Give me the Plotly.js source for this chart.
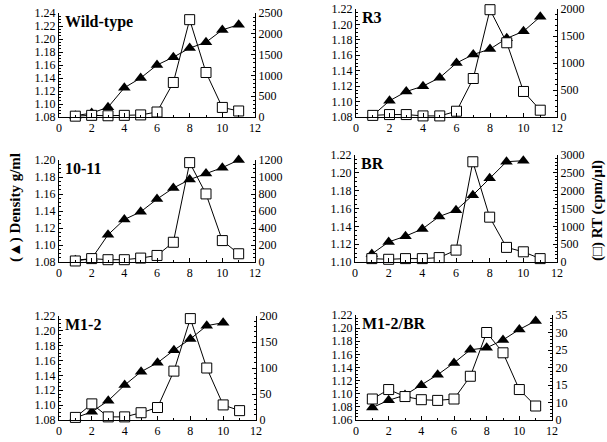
<!DOCTYPE html>
<html>
<head>
<meta charset="utf-8">
<script src="https://cdn.plot.ly/plotly-3.0.1.min.js"></script>
<style>html,body{margin:0;padding:0;background:#fff;}#chart{width:607px;height:442px;}</style>
</head>
<body>
<div id="chart"></div>
<script>
// ---- data ----
const fractions = [1,2,3,4,5,6,7,8,9,10,11];
const xTickVals = [0,2,4,6,8,10,12];
const panelNames = ["Wild-type","R3","10-11","BR","M1-2","M1-2/BR"];

const wtDensity   = [1.082,1.086,1.095,1.125,1.140,1.160,1.172,1.186,1.195,1.214,1.222];
const wtRT        = [20,40,30,40,50,120,830,2340,1070,230,145];
const r3Density   = [1.082,1.101,1.113,1.120,1.131,1.150,1.161,1.168,1.182,1.191,1.210];
const r3RT        = [30,45,45,20,20,107,713,1987,1375,473,126];
const d1011Density= [1.082,1.084,1.112,1.130,1.139,1.154,1.167,1.177,1.184,1.191,1.200];
const d1011RT     = [12,40,27,27,46,77,232,1169,801,252,97];
const brDensity   = [1.109,1.1225,1.129,1.137,1.151,1.158,1.175,1.194,1.2125,1.2136];
const brRT        = [95,76,95,95,124,333,2810,1257,410,286,95];
const m12Density  = [1.083,1.091,1.106,1.127,1.145,1.157,1.174,1.189,1.207,1.211];
const m12RT       = [5,31,6,6,14,24,94,195,100,29,18];
const m12brDensity= [1.079,1.090,1.098,1.113,1.129,1.147,1.167,1.170,1.182,1.198,1.211];
const m12brRT     = [11.0,13.7,11.7,10.8,10.6,11.0,17.5,30.0,24.2,13.7,9.0];

const densityRanges = [[1.08,1.24],[1.08,1.22],[1.08,1.20],[1.10,1.22],[1.08,1.22],[1.06,1.22]];
const rtRanges = [[0,2500],[0,2000],[0,1200],[0,3000],[0,200],[5,35]];
const rtDticks = [500,500,200,500,50,5];
const m12brRTTickVals = [5,10,15,20,25,30,35];
const m12brRTTickText = ["0","10","15","20","25","30","35"];

const densitySeries = [wtDensity,r3Density,d1011Density,brDensity,m12Density,m12brDensity];
const rtSeries = [wtRT,r3RT,d1011RT,brRT,m12RT,m12brRT];

// ---- layout geometry (pixels) ----
const W = 607, H = 442;
const boxes = [
  {x0:59, x1:255, y0:13, y1:117},
  {x0:356,x1:557, y0:9,  y1:117},
  {x0:59, x1:255, y0:160,y1:262},
  {x0:355,x1:557, y0:155,y1:262},
  {x0:59, x1:256, y0:316,y1:420},
  {x0:356,x1:552, y0:315,y1:420}
];
const FONT = "Liberation Serif";
const tickFont = {family: FONT, size: 12, color: "#000"};

const data = [];
const layout = {
  width: W, height: H,
  margin: {l:0, r:0, t:0, b:0},
  paper_bgcolor: "#fff", plot_bgcolor: "#fff",
  showlegend: false,
  font: {family: FONT, color: "#000"},
  annotations: []
};

boxes.forEach((b, i) => {
  const k = i + 1;
  const xa = "x" + k;
  const ya = "y" + (2*i + 1);
  const ya2 = "y" + (2*i + 2);
  const dens = densitySeries[i];
  data.push({
    x: fractions.slice(0, dens.length), y: dens, xaxis: xa, yaxis: ya,
    type: "scatter", mode: "lines+markers",
    line: {color: "#000", width: 1},
    marker: {symbol: "triangle-up", size: 11, color: "#000"},
    cliponaxis: false
  });
  data.push({
    x: fractions, y: rtSeries[i], xaxis: xa, yaxis: ya2,
    type: "scatter", mode: "lines+markers",
    line: {color: "#000", width: 1},
    marker: {symbol: "square", size: 10, color: "#fff", line: {color: "#000", width: 1}},
    cliponaxis: false
  });
  const dom = {x: [b.x0 / W, b.x1 / W], y: [1 - b.y1 / H, 1 - b.y0 / H]};
  layout["xaxis" + k] = {
    domain: dom.x, anchor: ya, range: [0, 12],
    tickmode: "array", tickvals: xTickVals,
    ticks: "inside", ticklen: 4, tickwidth: 1, tickcolor: "#000",
    minor: {dtick: 1, ticks: "inside", ticklen: 2, tickcolor: "#000", showgrid: false},
    showline: true, linecolor: "#000", linewidth: 1,
    showgrid: false, zeroline: false, tickfont: tickFont, ticklabelstandoff: 0
  };
  layout["yaxis" + (2*i + 1)] = {
    domain: dom.y, anchor: xa, range: densityRanges[i],
    dtick: 0.02, tickformat: ".2f",
    ticks: "inside", ticklen: 4, tickwidth: 1, tickcolor: "#000",
    minor: {dtick: 0.005, ticks: "inside", ticklen: 2, tickcolor: "#000", showgrid: false},
    showline: true, linecolor: "#000", linewidth: 1,
    showgrid: false, zeroline: false, tickfont: tickFont, ticklabelstandoff: 0
  };
  const y2 = {
    domain: dom.y, anchor: xa, overlaying: ya, side: "right", range: rtRanges[i],
    ticks: "inside", ticklen: 4, tickwidth: 1, tickcolor: "#000",
    minor: {nticks: 6, ticks: "inside", ticklen: 2, tickcolor: "#000", showgrid: false},
    showline: true, linecolor: "#000", linewidth: 1,
    showgrid: false, zeroline: false, tickfont: tickFont, ticklabelstandoff: 0
  };
  if (i === 5) {
    y2.tickmode = "array"; y2.tickvals = m12brRTTickVals; y2.ticktext = m12brRTTickText;
    y2.minor = {dtick: 1, ticks: "inside", ticklen: 2, tickcolor: "#000", showgrid: false};
  } else {
    y2.dtick = rtDticks[i];
  }
  layout["yaxis" + (2*i + 2)] = y2;
  layout.annotations.push({
    text: "<b>" + panelNames[i] + "</b>", xref: "paper", yref: "paper",
    x: (b.x0 + 4) / W, y: 1 - (b.y0 - 2) / H, xanchor: "left", yanchor: "top",
    showarrow: false, font: {family: FONT, size: 16, color: "#000"}
  });
});

layout.annotations.push({
  text: "<b>(▲) Density g/ml</b>", xref: "paper", yref: "paper",
  x: 15 / W, y: 1 - 208 / H, xanchor: "center", yanchor: "middle",
  textangle: -90, showarrow: false, font: {family: FONT, size: 15, color: "#000"}
});
layout.annotations.push({
  text: "<b>(□) RT (cpm/µl)</b>", xref: "paper", yref: "paper",
  x: 597 / W, y: 1 - 211 / H, xanchor: "center", yanchor: "middle",
  textangle: -90, showarrow: false, font: {family: FONT, size: 15, color: "#000"}
});

Plotly.newPlot("chart", data, layout, {displayModeBar: false, staticPlot: true});
</script>
</body>
</html>
